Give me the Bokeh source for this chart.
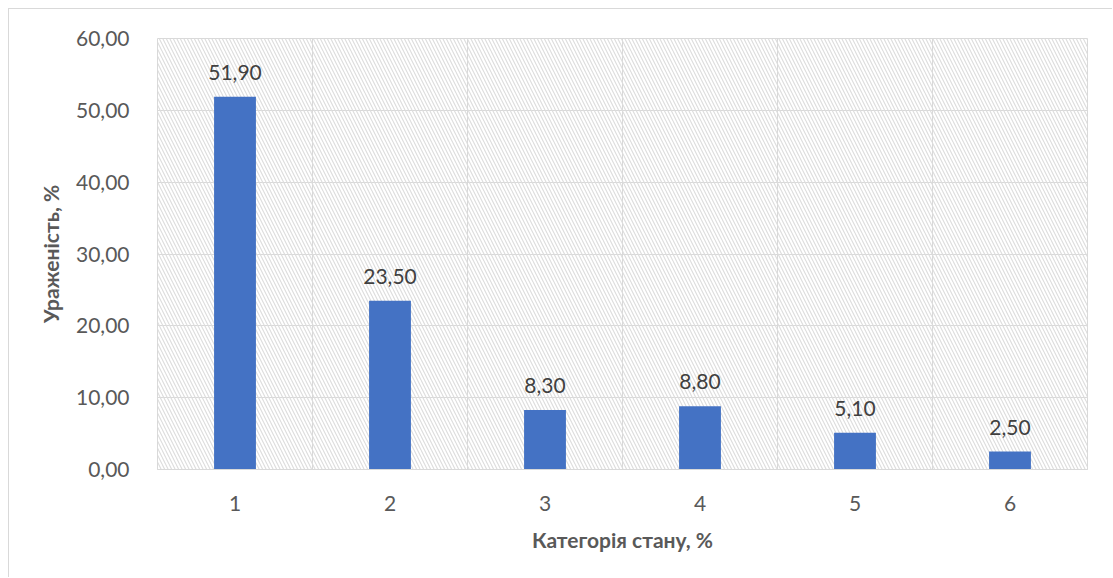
from bokeh.plotting import figure
from bokeh.models import (ColumnDataSource, FixedTicker, LabelSet, BoxAnnotation,
                          CustomJSTickFormatter, Range1d)
from bokeh.core.properties import value
from bokeh.embed import file_html
from bokeh.resources import INLINE

# Categories of condition and the share of affected objects in each (%)
categories = [1, 2, 3, 4, 5, 6]
values = [51.90, 23.50, 8.30, 8.80, 5.10, 2.50]
y_ticks = [0, 10, 20, 30, 40, 50, 60]

labels = [f"{v:.2f}".replace(".", ",") for v in values]
source = ColumnDataSource(data=dict(x=categories, top=values, label=labels))

FONT = "Lato"
TEXT = "#595959"
GRID = "#d9d9d9"

p = figure(width=1104, height=569, output_backend="svg", toolbar_location=None,
           x_range=Range1d(0.5, 6.5), y_range=Range1d(0, 60),
           min_border_left=148, min_border_right=26, min_border_top=29,
           min_border_bottom=109)
p.margin = (8, 0, 0, 8)
p.styles = {"border-top": f"1px solid {GRID}", "border-left": f"1px solid {GRID}"}

# hatched plot area
p.add_layout(BoxAnnotation(fill_color=None, line_color=None, hatch_pattern="\\",
                           hatch_color="#dcdcdc", hatch_scale=7, hatch_weight=1.1,
                           level="underlay"))

p.vbar(x="x", top="top", width=0.27, bottom=0, source=source,
       fill_color="#4472c4", line_color=None)

p.add_layout(LabelSet(x="x", y="top", text="label", source=source,
                      text_align="center", text_baseline="bottom", y_offset=17,
                      text_font=value(FONT), text_font_size="21px", text_color="#404040"))

p.outline_line_color = GRID
p.background_fill_color = "white"
p.border_fill_color = "white"

p.xgrid.ticker = FixedTicker(ticks=[0.5, 1.5, 2.5, 3.5, 4.5, 5.5, 6.5])
p.ygrid.ticker = FixedTicker(ticks=y_ticks)
for g in (p.xgrid, p.ygrid):
    g.grid_line_color = GRID
    g.grid_line_width = 1

p.xaxis.ticker = FixedTicker(ticks=categories)
p.yaxis.ticker = FixedTicker(ticks=y_ticks)
p.yaxis.formatter = CustomJSTickFormatter(code="return tick.toFixed(2).replace('.', ',');")

for ax in (p.xaxis, p.yaxis):
    ax.major_tick_line_color = None
    ax.minor_tick_line_color = None
    ax.major_label_text_font = FONT
    ax.major_label_text_font_size = "21px"
    ax.major_label_text_color = TEXT
    ax.axis_label_text_font = FONT
    ax.axis_label_text_font_size = "21px"
    ax.axis_label_text_font_style = "bold"
    ax.axis_label_text_color = TEXT
p.xaxis.axis_line_color = GRID
p.yaxis.axis_line_color = None
p.xaxis.major_label_standoff = 20
p.yaxis.major_label_standoff = 22
p.xaxis.axis_label = "Категорія стану, %"
p.yaxis.axis_label = "Ураженість, %"
p.xaxis.axis_label_standoff = 13
p.yaxis.axis_label_standoff = 10

open("out.html", "w").write(file_html(p, INLINE))
